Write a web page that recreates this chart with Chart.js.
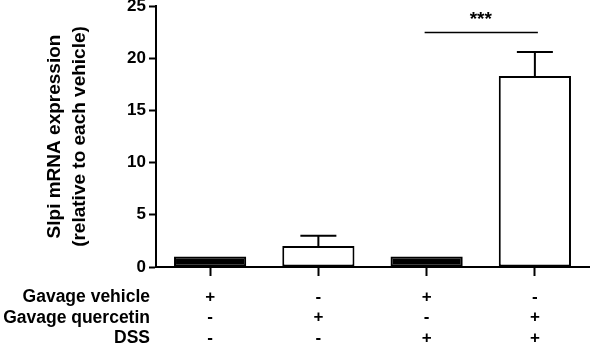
<!DOCTYPE html>
<html>
<head>
<meta charset="utf-8">
<script src="https://cdn.jsdelivr.net/npm/chart.js@4/dist/chart.umd.min.js"></script>
<style>
html,body{margin:0;padding:0;background:#fff;}
#wrap{width:590px;height:353px;}
</style>
</head>
<body>
<div id="wrap"><canvas id="c" width="590" height="353"></canvas></div>
<script>
const rowLabels = ['Gavage vehicle', 'Gavage quercetin', 'DSS'];
const gavageVehicle = ['+', '-', '+', '-'];
const gavageQuercetin = ['-', '+', '-', '+'];
const dss = ['-', '-', '+', '+'];
const values = [1.0, 2.0, 1.0, 18.3];
const errors = [0, 1.0, 0, 2.3];
const barFills = ['#000000', '#ffffff', '#000000', '#ffffff'];
const yTicks = [0, 5, 10, 15, 20, 25];
const yTitle = ['Slpi mRNA expression', '(relative to each vehicle)'];
const sigPair = [2, 3];
const sigLineValue = 22.5;
const sigTextValue = 24.0;
const sigText = '***';

const FONT = '"Liberation Sans", Arial, sans-serif';
const tickLen = 9, tickPad = 11, rowH = 20.5;

const labels = values.map((v, i) => [gavageVehicle[i], gavageQuercetin[i], dss[i]]);

const extras = {
  id: 'extras',
  afterDatasetsDraw(chart) {
    const ctx = chart.ctx;
    const y = chart.scales.y, x = chart.scales.x;
    const meta = chart.getDatasetMeta(0);
    ctx.save();
    ctx.strokeStyle = '#000';
    ctx.lineWidth = 2;
    meta.data.forEach((bar, i) => {
      if (!errors[i]) return;
      const top = y.getPixelForValue(values[i] + errors[i]);
      const base = y.getPixelForValue(values[i]);
      ctx.beginPath();
      ctx.moveTo(bar.x, base); ctx.lineTo(bar.x, top);
      ctx.moveTo(bar.x - 18, top); ctx.lineTo(bar.x + 18, top);
      ctx.stroke();
    });
    // significance
    const x1 = meta.data[sigPair[0]].x, x2 = meta.data[sigPair[1]].x;
    const ly = Math.round(y.getPixelForValue(sigLineValue)) + 0.5;
    ctx.lineWidth = 1.5;
    ctx.beginPath();
    ctx.moveTo(x1 - 2, ly); ctx.lineTo(x2 + 3, ly);
    ctx.stroke();
    ctx.fillStyle = '#000';
    ctx.font = 'bold 19px ' + FONT;
    ctx.textAlign = 'center';
    ctx.textBaseline = 'middle';
    ctx.fillText(sigText, (x1 + x2) / 2, y.getPixelForValue(sigTextValue) + 3);
    // row labels
    ctx.font = 'bold 17.5px ' + FONT;
    ctx.textAlign = 'right';
    const y0 = x.top + tickLen + tickPad;
    rowLabels.forEach((t, r) => {
      ctx.fillText(t, 150, y0 + rowH * (r + 0.5));
    });
    ctx.restore();
  }
};

new Chart(document.getElementById('c'), {
  type: 'bar',
  data: {
    labels: labels,
    datasets: [{
      data: values,
      backgroundColor: barFills,
      borderColor: '#000',
      borderWidth: 2,
      borderSkipped: false,
      categoryPercentage: 1.0,
      barPercentage: 0.667
    }]
  },
  options: {
    responsive: false,
    animation: false,
    devicePixelRatio: 1,
    layout: { padding: { top: 6, right: 1, left: 0, bottom: 0 } },
    plugins: { legend: { display: false }, tooltip: { enabled: false } },
    scales: {
      x: {
        offset: true,
        grid: { display: true, drawOnChartArea: false, drawTicks: true, tickLength: tickLen, tickWidth: 2, tickColor: '#000', offset: false },
        border: { display: true, color: '#000', width: 2 },
        ticks: { color: '#000', font: { family: FONT, size: 17, weight: 'bold', lineHeight: rowH + 'px' }, padding: tickPad, maxRotation: 0, autoSkip: false },
        afterFit(s) { s.height = 86; s.paddingLeft = 0; s.paddingRight = 0; }
      },
      y: {
        min: 0, max: 25,
        afterBuildTicks(s) { s.ticks = yTicks.map(v => ({ value: v })); },
        grid: { display: true, drawOnChartArea: false, drawTicks: true, tickLength: 7, tickWidth: 2, tickColor: '#000' },
        border: { display: true, color: '#000', width: 2 },
        ticks: { color: '#000', font: { family: FONT, size: 17, weight: 'bold' }, padding: 3 },
        title: { display: true, text: yTitle, color: '#000', font: { family: FONT, size: 19, weight: 'bold', lineHeight: '25px' }, padding: { top: 42, bottom: 0 } },
        afterFit(s) { s.width = 156; s.paddingTop = 0; s.paddingBottom = 0; }
      }
    }
  },
  plugins: [extras]
});
</script>
</body>
</html>
